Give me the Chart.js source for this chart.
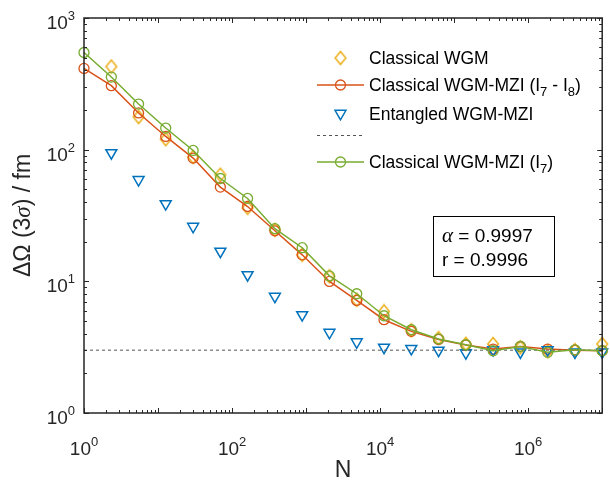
<!DOCTYPE html>
<html><head><meta charset="utf-8">
<script src="https://cdn.jsdelivr.net/npm/chart.js@4/dist/chart.umd.min.js"></script>
<style>html,body{margin:0;padding:0;background:#fff;}#wrap{width:610px;height:483px;position:relative;}</style>
</head><body><div id="wrap"><canvas id="c" width="610" height="483"></canvas></div>
<script>
// ---- data ----
const N = [1, 2.34, 5.46, 12.7, 29.8, 69.5, 162, 379, 886, 2069, 4833, 11288, 26367, 61585, 143845, 335982, 784760, 1832981, 4281332, 10000000];
const classicalWGM = [null, 428, 177, 120, 88, 64.5, 36.2, 24.6, 15.9, 10.9, 7.24, 5.91, 4.25, 3.70, 3.35, 3.34, 3.15, 2.94, 3.00, 3.34];
const classicalMZIdiff = [414, 306, 190, 126, 86.3, 52.0, 37.0, 24.2, 15.9, 9.98, 7.16, 5.11, 4.17, 3.62, 3.28, 3.06, 3.20, 3.06, 3.00, 2.97];
const entangledMZI = [null, 94.6, 59.1, 38.8, 26.1, 16.9, 11.2, 7.68, 5.57, 4.09, 3.46, 3.15, 3.08, 2.99, 2.86, 3.02, 2.90, 3.02, 2.90, 2.90];
const classicalMZII7 = [547, 356, 222, 146, 98.6, 60.4, 42.6, 25.1, 18.0, 11.0, 8.05, 5.48, 4.29, 3.65, 3.30, 2.97, 3.20, 2.89, 3.02, 2.97];
const limitN = [1, 10000000];
const limitLevel = [3, 3];
const xTickExponents = [0, 2, 4, 6];
const yTickExponents = [0, 1, 2, 3];
const seriesLabels = ['Classical WGM', 'Classical WGM-MZI (I_7 - I_8)', 'Entangled WGM-MZI', '', 'Classical WGM-MZI (I_7)'];
const annotationLines = ['α = 0.9997', 'r = 0.9996'];
const xTitle = 'N';
const yTitleParts = ['ΔΩ (3', 'σ', ') / fm'];

const SANS = "'Liberation Sans', Arial, Helvetica, sans-serif";
const SERIF_I = 'italic 23px "Liberation Serif", "Times New Roman", serif';
const COL = {yellow:'#EDB120', orange:'#D95319', blue:'#0072BD', green:'#77AC30', axis:'#262626'};

function pts(xs, ys){ const o=[]; xs.forEach((x,i)=>{ if(ys[i]!=null) o.push({x:x,y:ys[i]}); }); return o; }

function diamondCanvas(color){
  const c=document.createElement('canvas'); c.width=14; c.height=16;
  const g=c.getContext('2d'); g.strokeStyle=color; g.lineWidth=1.6; g.lineJoin='miter';
  g.beginPath(); g.moveTo(7,1.5); g.lineTo(12.3,8); g.lineTo(7,14.5); g.lineTo(1.7,8); g.closePath(); g.stroke();
  return c;
}
const diamond = diamondCanvas(COL.yellow);
const clear = 'rgba(0,0,0,0)';

const datasets = [
  {label: seriesLabels[4], data: pts(N, classicalMZII7), showLine:true, borderColor:COL.green, borderWidth:1.5,
   pointStyle:'circle', pointRadius:5, pointBorderWidth:1.3, pointBorderColor:COL.green, pointBackgroundColor:clear, order:0},
  {label: 'limit', data: pts(limitN, limitLevel), showLine:true, borderColor:'#555555', borderWidth:1, borderDash:[3,3],
   pointRadius:0, order:1},
  {label: seriesLabels[2], data: pts(N, entangledMZI), showLine:false, pointStyle:'triangle', rotation:180, pointRadius:6.3,
   pointBorderWidth:1.5, pointBorderColor:COL.blue, pointBackgroundColor:clear, order:2},
  {label: seriesLabels[1], data: pts(N, classicalMZIdiff), showLine:true, borderColor:COL.orange, borderWidth:1.5,
   pointStyle:'circle', pointRadius:5, pointBorderWidth:1.3, pointBorderColor:COL.orange, pointBackgroundColor:clear, order:3},
  {label: seriesLabels[0], data: pts(N, classicalWGM), showLine:false, pointStyle:diamond, pointRadius:6, order:4},
];

function drawRich(ctx, text, x, y, size){
  const parts = text.split(/(_\w)/);
  let cx = x;
  parts.forEach(p=>{
    if(!p) return;
    if(p[0]==='_'){
      ctx.font = Math.round(size*0.72)+'px '+SANS;
      ctx.fillText(p.slice(1), cx, y+5);
      cx += ctx.measureText(p.slice(1)).width;
    } else {
      ctx.font = size+'px '+SANS;
      ctx.fillText(p, cx, y);
      cx += ctx.measureText(p).width;
    }
  });
}

function powLabel(ctx, exp, x, y, align){
  const base='10', e=String(exp);
  ctx.font='19px '+SANS; const wb=ctx.measureText(base).width;
  ctx.font='13px '+SANS; const we=ctx.measureText(e).width;
  const w=wb+we;
  let left = align==='right' ? x-w : x-w/2;
  ctx.textAlign='left'; ctx.textBaseline='alphabetic';
  ctx.font='19px '+SANS; ctx.fillText(base, left, y);
  ctx.font='13px '+SANS; ctx.fillText(e, left+wb, y-9);
}

const matlabAxes = {
  id:'matlabAxes',
  afterDraw(chart){
    const ctx=chart.ctx, a=chart.chartArea, xs=chart.scales.x, ys=chart.scales.y;
    ctx.save();
    ctx.strokeStyle=COL.axis; ctx.lineWidth=1;
    for(let d=0; d<=7; d++){
      for(let m=1; m<10; m++){
        const v=m*Math.pow(10,d); if(v>1e7) break;
        const px=Math.round(xs.getPixelForValue(v))+0.5; const L=(m===1)?5:3;
        ctx.beginPath(); ctx.moveTo(px,a.bottom); ctx.lineTo(px,a.bottom-L); ctx.moveTo(px,a.top); ctx.lineTo(px,a.top+L); ctx.stroke();
      }
    }
    for(let d=0; d<=3; d++){
      for(let m=1; m<10; m++){
        const v=m*Math.pow(10,d); if(v>1000) break;
        const py=Math.round(ys.getPixelForValue(v))+0.5; const L=(m===1)?5:3;
        ctx.beginPath(); ctx.moveTo(a.left,py); ctx.lineTo(a.left+L,py); ctx.moveTo(a.right,py); ctx.lineTo(a.right-L,py); ctx.stroke();
      }
    }
    ctx.lineWidth=1.5;
    ctx.strokeRect(a.left, a.top, a.right-a.left, a.bottom-a.top);
    ctx.fillStyle=COL.axis;
    xTickExponents.forEach(e=>{ powLabel(ctx, e, xs.getPixelForValue(Math.pow(10,e)), 455, 'center'); });
    yTickExponents.forEach(e=>{ powLabel(ctx, e, 75, ys.getPixelForValue(Math.pow(10,e))+11, 'right'); });
    // axis titles
    ctx.font='23px '+SANS; ctx.textAlign='center'; ctx.textBaseline='alphabetic';
    ctx.fillText(xTitle, (a.left+a.right)/2, 477);
    ctx.save();
    ctx.translate(30, (a.top+a.bottom)/2); ctx.rotate(-Math.PI/2);
    ctx.textAlign='left';
    const fonts=['23px '+SANS, SERIF_I, '23px '+SANS];
    let tw=0; yTitleParts.forEach((p,i)=>{ ctx.font=fonts[i]; tw+=ctx.measureText(p).width; });
    let cx=-tw/2;
    yTitleParts.forEach((p,i)=>{ ctx.font=fonts[i]; ctx.fillText(p, cx, 0); cx+=ctx.measureText(p).width; });
    ctx.restore();
    // legend
    const lx0=317, lx1=364, mx=340.5, tx=369;
    const rows=[58, 85, 113.5, 135, 162];
    ctx.textAlign='left'; ctx.textBaseline='alphabetic';
    ctx.drawImage(diamond, mx-diamond.width/2, rows[0]-diamond.height/2);
    ctx.strokeStyle=COL.orange; ctx.lineWidth=1.5; ctx.beginPath(); ctx.moveTo(lx0,rows[1]); ctx.lineTo(lx1,rows[1]); ctx.stroke();
    ctx.lineWidth=1.3; ctx.fillStyle=clear; Chart.helpers.drawPoint(ctx,{pointStyle:'circle',radius:5,borderWidth:1.3,rotation:0},mx,rows[1]);
    ctx.strokeStyle=COL.blue; ctx.lineWidth=1.5; Chart.helpers.drawPoint(ctx,{pointStyle:'triangle',radius:6.3,borderWidth:1.5,rotation:180},mx,rows[2]);
    ctx.strokeStyle='#555555'; ctx.lineWidth=1; ctx.setLineDash([3,3]); ctx.beginPath(); ctx.moveTo(lx0,rows[3]+0.5); ctx.lineTo(lx1,rows[3]+0.5); ctx.stroke(); ctx.setLineDash([]);
    ctx.strokeStyle=COL.green; ctx.lineWidth=1.5; ctx.beginPath(); ctx.moveTo(lx0,rows[4]); ctx.lineTo(lx1,rows[4]); ctx.stroke();
    ctx.lineWidth=1.3; Chart.helpers.drawPoint(ctx,{pointStyle:'circle',radius:5,borderWidth:1.3,rotation:0},mx,rows[4]);
    ctx.fillStyle='#000';
    seriesLabels.forEach((s,i)=>{ if(s) drawRich(ctx, s, tx, rows[i]+6, 17.5); });
    // annotation box
    ctx.fillStyle='#fff'; ctx.fillRect(433.5,216.5,121,60);
    ctx.strokeStyle='#000'; ctx.lineWidth=1; ctx.strokeRect(433.5,216.5,121,60);
    ctx.fillStyle='#000';
    annotationLines.forEach((s,i)=>{
      const yb = 242 + i*23.5;
      let cx=442;
      const first=s[0];
      if(/[α-ω]/.test(first)){
        ctx.font='italic 21px "Liberation Serif", "Times New Roman", serif';
        ctx.fillText(first, cx, yb); cx+=ctx.measureText(first).width;
        ctx.font='19px '+SANS; ctx.fillText(s.slice(1), cx, yb);
      } else { ctx.font='19px '+SANS; ctx.fillText(s, cx, yb); }
    });
    ctx.restore();
  }
};

new Chart(document.getElementById('c'), {
  type:'scatter',
  data:{datasets:datasets},
  options:{
    responsive:false, animation:false, devicePixelRatio:1,
    clip:false,
    layout:{padding:{top:18,right:3,left:0,bottom:0}},
    plugins:{legend:{display:false}, tooltip:{enabled:false}},
    elements:{line:{tension:0}},
    datasets:{scatter:{clip:false}},
    scales:{
      x:{type:'logarithmic', min:1, max:1e7, ticks:{display:false}, grid:{display:false}, border:{display:false},
         afterFit:s=>{s.height=70;}},
      y:{type:'logarithmic', min:1, max:1000, ticks:{display:false}, grid:{display:false}, border:{display:false},
         afterFit:s=>{s.width=84;}}
    }
  },
  plugins:[matlabAxes]
});
</script></body></html>
